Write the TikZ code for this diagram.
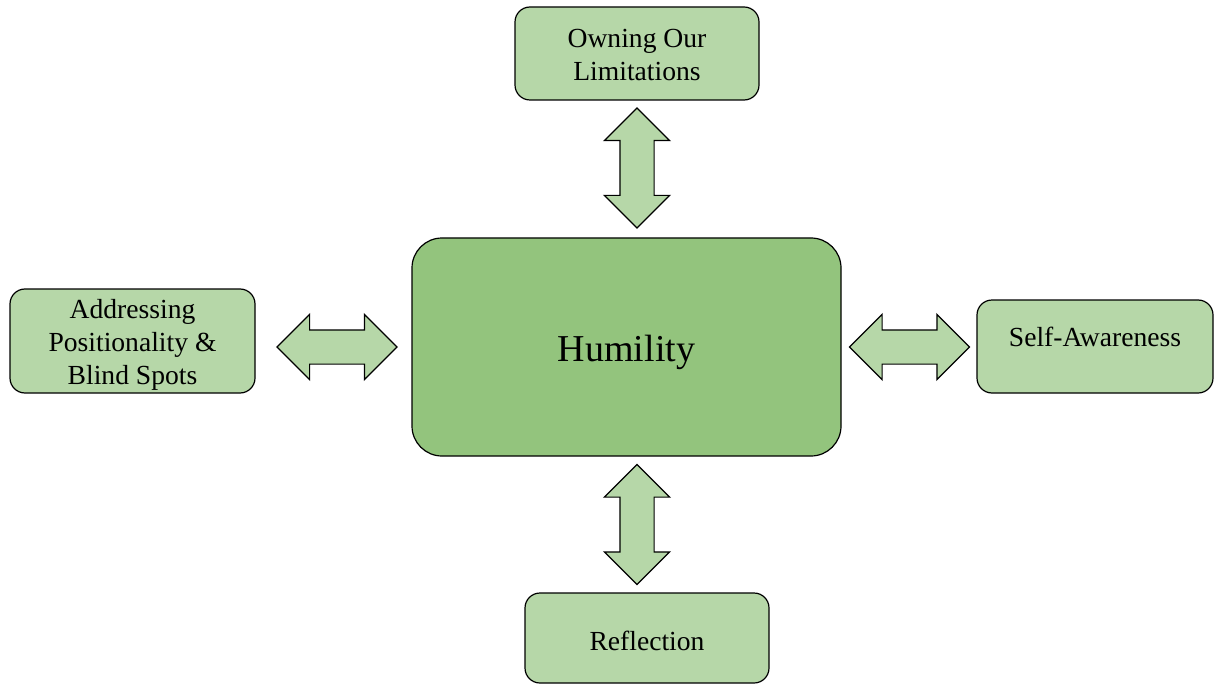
\documentclass[tikz,border=0pt]{standalone}
\usepackage{fontspec}
\setmainfont{Liberation Serif}
\usetikzlibrary{shapes.arrows,positioning}

\definecolor{leafgreen}{HTML}{B6D7A8}
\definecolor{coregreen}{HTML}{93C47D}

\tikzset{
  subbox/.style={draw, fill=leafgreen, rounded corners=7.5pt, line width=0.6pt,
    inner sep=0pt},
  boxtext/.style={align=center, font=\fontsize{13.8}{16.5}\selectfont},
  corebox/.style={draw, fill=coregreen, rounded corners=15pt, line width=0.6pt,
    minimum width=214.5pt, minimum height=109pt},
  linkarrow/.style={double arrow, draw, fill=leafgreen, line width=0.6pt,
    inner sep=0pt, text height=16.5pt, text depth=0pt, minimum width=32pt,
    double arrow head extend=7.75pt, minimum height=60pt}
}

\begin{document}
\begin{tikzpicture}[x=0.5pt, y=-0.5pt]
      \useasboundingbox (0,0) rectangle (1214,684);

      % Define nodes
      \node[corebox, label={[font=\fontsize{19}{22}\selectfont, yshift=-2.5pt]center:Humility}]
        (humility) at (626.5,347) {};

      \node[subbox, minimum width=122pt, minimum height=46.5pt,
        label={[boxtext, yshift=-1pt]center:Owning Our\\Limitations}]
        (owning) at (637,53.5) {};
      \node[subbox, minimum width=122.5pt, minimum height=52pt,
        label={[boxtext, yshift=-2pt]center:Addressing\\Positionality \&\\Blind Spots}]
        (address) at (132.5,341) {};
      \node[subbox, minimum width=118pt, minimum height=46.5pt,
        label={[boxtext, yshift=5pt]center:Self-Awareness}]
        (aware) at (1095,346.5) {};
      \node[subbox, minimum width=122pt, minimum height=45pt,
        label={[boxtext, yshift=-1.5pt]center:Reflection}]
        (reflect) at (647,638) {};

      % Draw links
      \node[linkarrow, rotate=90] (upLink) at (637,168) {};
      \node[linkarrow, rotate=90] (downLink) at (637,524.5) {};
      \node[linkarrow] (leftLink) at (337,347) {};
      \node[linkarrow] (rightLink) at (909.5,347) {};
    \end{tikzpicture}
\end{document}
